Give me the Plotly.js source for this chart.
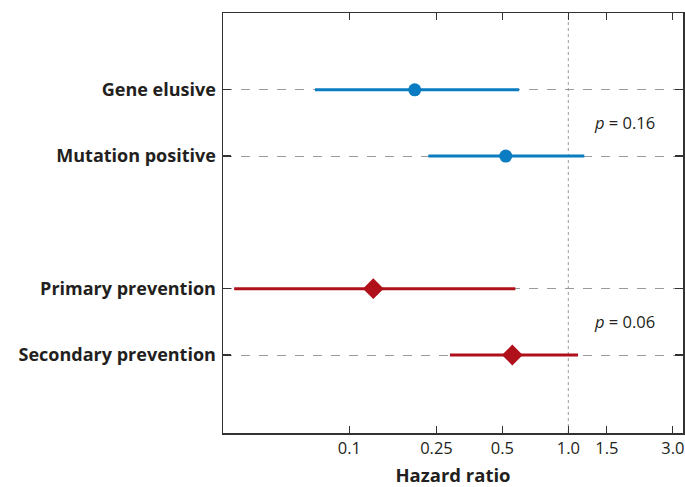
<!DOCTYPE html>
<html>
<head>
<meta charset="utf-8">
<script src="https://cdn.plot.ly/plotly-3.0.1.min.js"></script>
<style>html,body{margin:0;padding:0;background:#fff;}#chart{width:685px;height:487px;}</style>
</head>
<body>
<div id="chart"></div>
<script>
// Data
const groupA_labels = ['Gene elusive', 'Mutation positive'];
const groupA_pos = [5, 4];
const groupA_hr = [0.199, 0.518];
const groupA_low = [0.0697, 0.2295];
const groupA_high = [0.596, 1.183];

const groupB_labels = ['Primary prevention', 'Secondary prevention'];
const groupB_pos = [2, 1];
const groupB_hr = [0.1287, 0.555];
const groupB_low = [0.0298, 0.288];
const groupB_high = [0.573, 1.107];

const pTexts = ['<i>p</i> = 0.16', '<i>p</i> = 0.06'];
const pPos = [4.5, 1.5];
const pX = 1.815;
const referenceHR = 1.0;

const xTickVals = [0.1, 0.25, 0.5, 1.0, 1.5, 3.0];
const xTickText = ['0.1', '0.25', '0.5', '1.0', '1.5', '3.0'];

const blue = '#0a7cc2';
const red = '#b0101a';
const textColor = '#231f20';
const FONT = '"Open Sans", "Noto Sans", sans-serif';

function errs(hr, lo, hi) {
  return {
    type: 'data', symmetric: false,
    array: hr.map((v, i) => hi[i] - v),
    arrayminus: hr.map((v, i) => v - lo[i]),
    width: 0, thickness: 3
  };
}

const traces = [
  {
    type: 'scatter', mode: 'markers',
    x: groupA_hr, y: groupA_pos,
    error_x: Object.assign(errs(groupA_hr, groupA_low, groupA_high), {color: blue}),
    marker: {symbol: 'circle', size: 13, color: blue},
    hoverinfo: 'x', showlegend: false
  },
  {
    type: 'scatter', mode: 'markers',
    x: groupB_hr, y: groupB_pos,
    error_x: Object.assign(errs(groupB_hr, groupB_low, groupB_high), {color: red}),
    marker: {symbol: 'diamond', size: 16, color: red},
    hoverinfo: 'x', showlegend: false
  }
];

const layout = {
  width: 685, height: 487,
  margin: {l: 223, r: 2, t: 13, b: 54},
  paper_bgcolor: '#fff', plot_bgcolor: '#fff',
  font: {family: FONT, color: textColor},
  xaxis: {
    type: 'log',
    range: [Math.log10(0.0265), Math.log10(3.34)],
    tickvals: xTickVals, ticktext: xTickText,
    ticks: 'inside', ticklen: 7, tickwidth: 1.2, tickcolor: '#333',
    showline: true, linecolor: '#333', linewidth: 1.5, mirror: 'ticks',
    showgrid: false, zeroline: false,
    tickfont: {size: 16.5, family: FONT, color: textColor},
    title: {text: '<b>Hazard ratio</b>', font: {size: 18.5, family: FONT, color: textColor}, standoff: 14}
  },
  yaxis: {
    range: [-0.176, 6.158],
    tickvals: groupA_pos.concat(groupB_pos),
    ticktext: groupA_labels.concat(groupB_labels).map(s => '<b>' + s + '</b>'),
    ticks: 'inside', ticklen: 8, tickwidth: 1.2, tickcolor: '#333',
    showline: true, linecolor: '#333', linewidth: 1.5, mirror: 'ticks',
    showgrid: true, gridcolor: '#9a9a9a', gridwidth: 1, griddash: 'dash',
    zeroline: false,
    tickfont: {size: 18, family: FONT, color: textColor},
    ticklabelstandoff: 2
  },
  shapes: [{
    type: 'line', xref: 'x', yref: 'paper',
    x0: referenceHR, x1: referenceHR, y0: 0, y1: 1,
    line: {color: '#9a9a9a', width: 1, dash: 'dot'}, layer: 'below'
  }],
  annotations: pTexts.map((t, i) => ({
    x: Math.log10(pX), y: pPos[i], xref: 'x', yref: 'y',
    text: t, showarrow: false,
    font: {size: 16.5, family: FONT, color: textColor}
  }))
};

Plotly.newPlot('chart', traces, layout, {displayModeBar: false, staticPlot: true});
</script>
</body>
</html>
